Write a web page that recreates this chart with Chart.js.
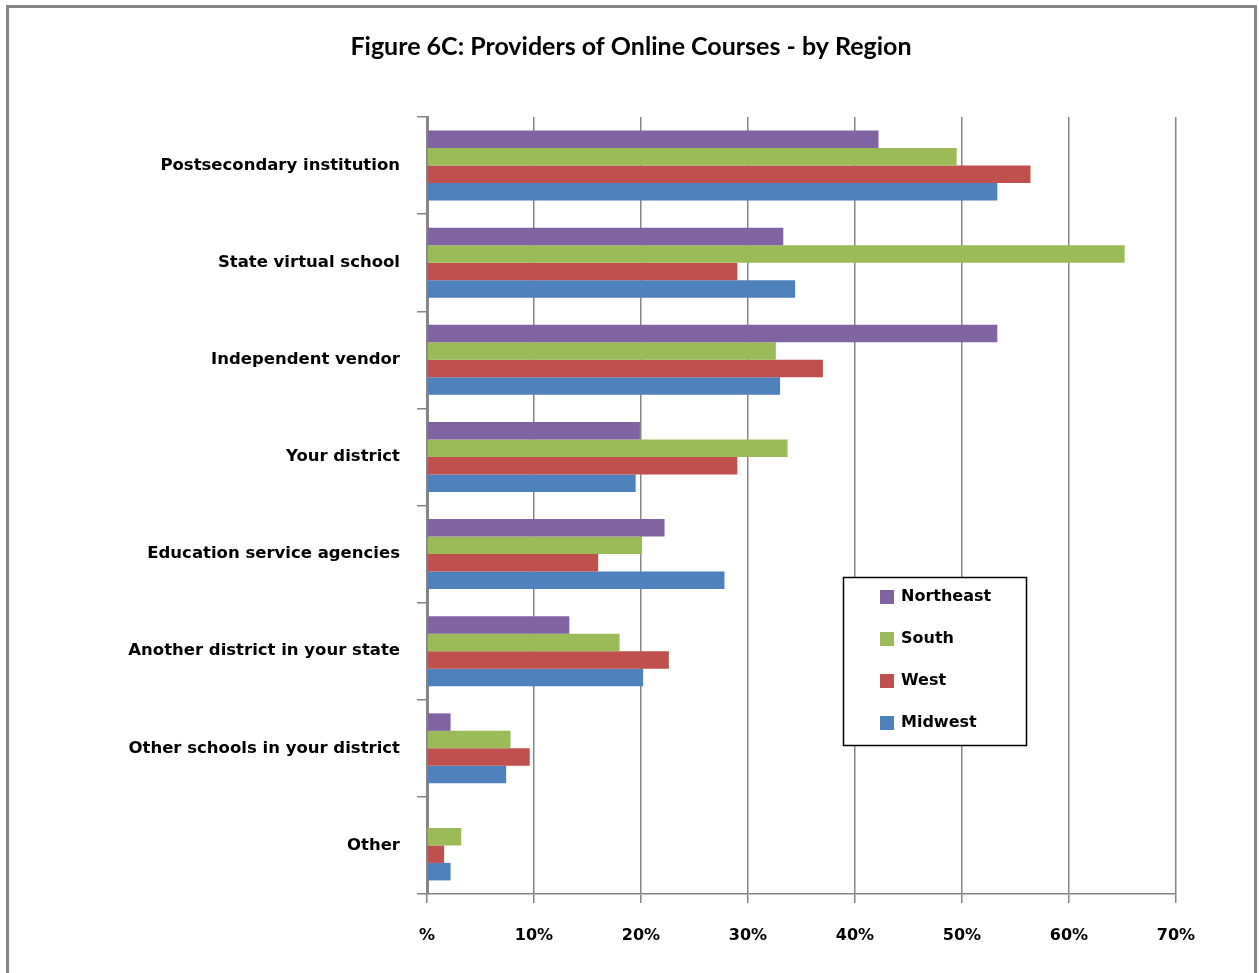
<!DOCTYPE html>
<html>
<head>
<meta charset="utf-8">
<title>Figure 6C</title>
<script src="https://cdn.jsdelivr.net/npm/chart.js@4/dist/chart.umd.min.js"></script>
<style>
  body{margin:0;background:#fff;}
  #wrap{width:1259px;height:973px;}
</style>
</head>
<body>
<div id="wrap"><canvas id="grafico" width="1259" height="973"></canvas></div>
<script>
// categorias (de arriba hacia abajo)
const categorias = [
  'Postsecondary institution',
  'State virtual school',
  'Independent vendor',
  'Your district',
  'Education service agencies',
  'Another district in your state',
  'Other schools in your district',
  'Other'
];

// porcentaje por region
const northeast = [42.2, 33.3, 53.3, 19.9, 22.2, 13.3, 2.2, 0];
const south     = [49.5, 65.2, 32.6, 33.7, 20.1, 18.0, 7.8, 3.2];
const west      = [56.4, 29.0, 37.0, 29.0, 16.0, 22.6, 9.6, 1.6];
const midwest   = [53.3, 34.4, 33.0, 19.5, 27.8, 20.2, 7.4, 2.2];

const regiones = ['Northeast', 'South', 'West', 'Midwest'];
const colores  = ['#8064A2', '#9BBB59', '#C0504D', '#4F81BD'];

const etiquetasX = ['%', '10%', '20%', '30%', '40%', '50%', '60%', '70%'];

const titulo = 'Figure 6C: Providers of Online Courses - by Region';

const fuente = '"DejaVu Sans", sans-serif';
const fuenteTitulo = 'Lato, "Open Sans", sans-serif';
const gris = '#868686';

// marco exterior, titulo y leyenda dentro del area
const marco = {
  id: 'marco',
  beforeDraw(chart){
    const c = chart.ctx;
    c.save();
    c.strokeStyle = gris;
    c.lineWidth = 3;
    c.beginPath();
    c.moveTo(7.5, 973);
    c.lineTo(7.5, 6.5);
    c.lineTo(1255.5, 6.5);
    c.lineTo(1255.5, 973);
    c.stroke();
    c.fillStyle = '#000';
    c.font = 'bold 25px ' + fuenteTitulo;
    c.textAlign = 'center';
    c.textBaseline = 'middle';
    c.fillText(titulo, 631, 47);
    c.restore();
  },
  afterDraw(chart){
    const c = chart.ctx;
    c.save();
    c.fillStyle = '#fff';
    c.fillRect(843, 577, 183, 168);
    c.strokeStyle = '#000';
    c.lineWidth = 1.5;
    c.strokeRect(843.5, 577.5, 183, 168);
    c.font = 'bold 16px ' + fuente;
    c.textBaseline = 'middle';
    chart.data.datasets.forEach((ds, i) => {
      const y = 597 + i * 42;
      c.fillStyle = ds.backgroundColor;
      c.fillRect(880, y - 7, 14, 14);
      c.fillStyle = '#000';
      c.fillText(ds.label, 901, y);
    });
    c.restore();
  }
};

const series = [northeast, south, west, midwest];

const datos = {
  labels: categorias,
  datasets: series.map((valores, i) => ({
    label: regiones[i],
    data: valores,
    backgroundColor: colores[i],
    borderWidth: 0,
    categoryPercentage: 0.72,
    barPercentage: 1.0
  }))
};

const opciones = {
  indexAxis: 'y',
  responsive: false,
  animation: false,
  layout: { padding: { left: 0, right: 83, top: 117, bottom: 0 } },
  plugins: {
    legend: { display: false },
    tooltip: { enabled: false },
    title: { display: false }
  },
  scales: {
    x: {
      min: 0,
      max: 70,
      ticks: {
        stepSize: 10,
        color: '#000',
        font: { family: fuente, size: 16, weight: 'bold' },
        padding: 23,
        callback: (v, i) => etiquetasX[i]
      },
      grid: { color: gris, lineWidth: 1.5, tickLength: 9, drawTicks: true },
      border: { color: gris, width: 1.5 },
      afterFit(scale){ scale.height = 79; }
    },
    y: {
      ticks: {
        color: '#000',
        font: { family: fuente, size: 16.5, weight: 'bold' },
        padding: 17
      },
      grid: { drawOnChartArea: false, drawTicks: true, tickLength: 10, color: gris, lineWidth: 1.5, offset: true },
      border: { color: gris, width: 3 },
      afterFit(scale){ scale.width = 427; }
    }
  }
};

let G1 = new Chart(document.getElementById('grafico').getContext('2d'), {
  type: 'bar',
  data: datos,
  options: opciones,
  plugins: [marco]
});
</script>
</body>
</html>
